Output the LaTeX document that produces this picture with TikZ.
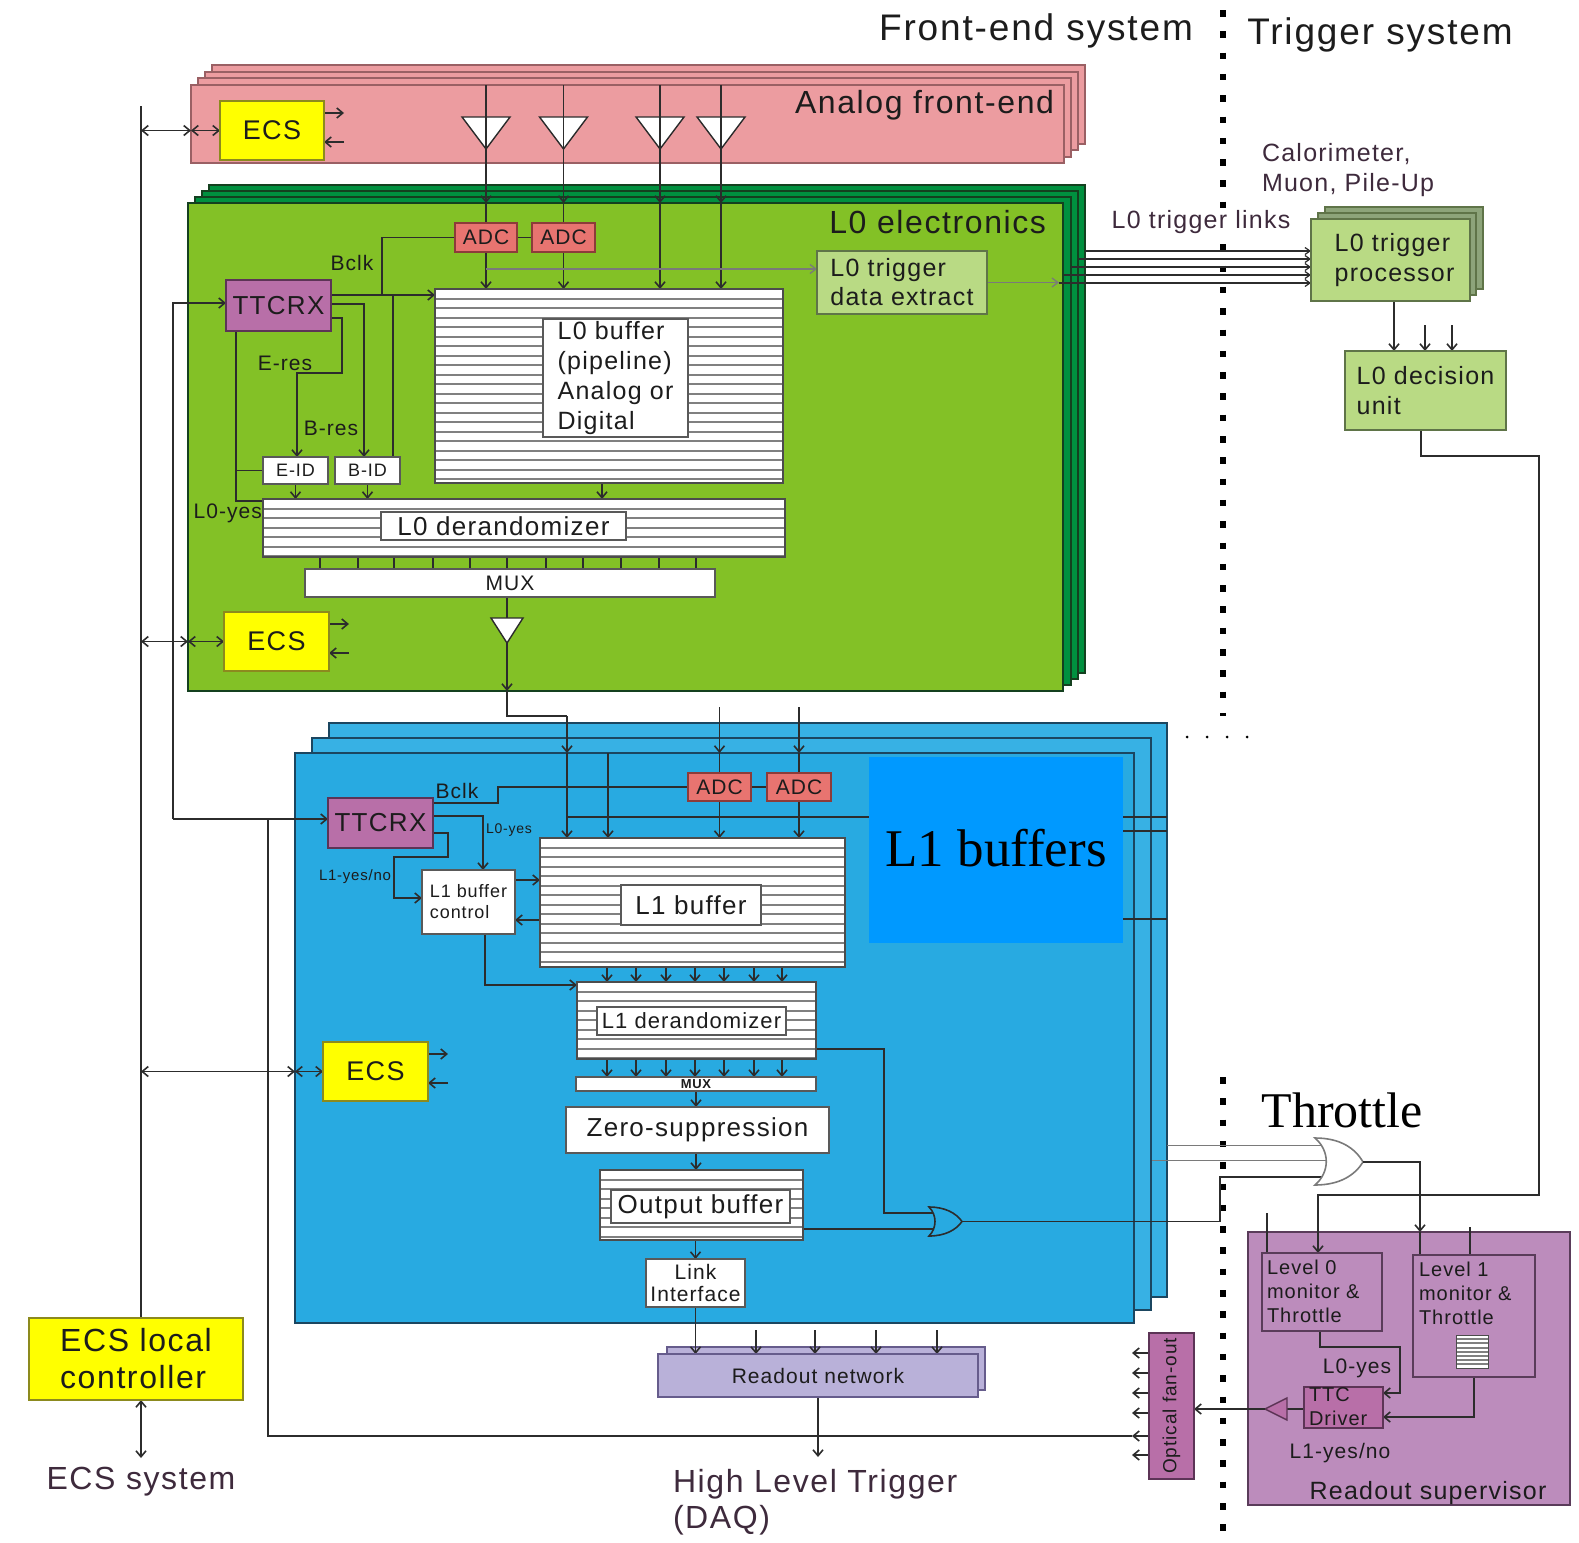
\documentclass[tikz,border=0pt]{standalone}
\usepackage{fontspec}
\setmainfont{Liberation Sans}[LetterSpace=5]
\newfontfamily\serifface{Liberation Serif}
\usetikzlibrary{arrows.meta,fit}
\newcommand\fz[2]{\fontsize{#1pt}{#2pt}\selectfont}
\pgfdeclarelayer{bg}
\pgfdeclarelayer{mid}
\pgfdeclarelayer{top}
\pgfsetlayers{bg,mid,main,top}
\definecolor{pinkf}{HTML}{EC9CA0}
\definecolor{pinkd}{HTML}{9A6064}
\definecolor{grnf}{HTML}{83C126}
\definecolor{grnd}{HTML}{00903F}
\definecolor{grnl}{HTML}{14401F}
\definecolor{ltgrn}{HTML}{B9DA84}
\definecolor{ltgrnd}{HTML}{5F7448}
\definecolor{gback}{HTML}{8DA47A}
\definecolor{yel}{HTML}{FFFF00}
\definecolor{yeld}{HTML}{8C8A1E}
\definecolor{purp}{HTML}{B86FA8}
\definecolor{purpd}{HTML}{5C3456}
\definecolor{adcf}{HTML}{E87470}
\definecolor{adcd}{HTML}{8C3C3A}
\definecolor{bluef}{HTML}{28AAE1}
\definecolor{blueb}{HTML}{37B1E4}
\definecolor{blued}{HTML}{1B4660}
\definecolor{ovl}{HTML}{0099FF}
\definecolor{rsf}{HTML}{BC8CBC}
\definecolor{rsd}{HTML}{5A3C5A}
\definecolor{rnf}{HTML}{B9B1D9}
\definecolor{rnd}{HTML}{665C8C}
\definecolor{lc}{HTML}{2C2C2C}
\definecolor{lg}{HTML}{7A7A7A}
\definecolor{stripec}{HTML}{808080}
\definecolor{txt}{HTML}{1C1C1C}
\definecolor{txtp}{HTML}{3E2A3C}
\begin{document}
\begin{tikzpicture}[x=1pt,y=-1pt,
  every node/.style={inner sep=0pt, outer sep=0pt, text=txt},
  bx/.style={draw, line width=1.5pt},
  pinkbox/.style={bx, draw=pinkd, fill=pinkf},
  gdark/.style={bx, draw=grnl, fill=grnd},
  gfront/.style={bx, draw=grnl, fill=grnf},
  bback/.style={bx, draw=blued, fill=blueb},
  bfront/.style={bx, draw=blued, fill=bluef},
  ltbox/.style={bx, draw=ltgrnd, fill=ltgrn},
  gbk/.style={bx, draw=ltgrnd, fill=gback},
  ecsbox/.style={bx, draw=yeld, fill=yel},
  ttcbox/.style={bx, draw=purpd, fill=purp},
  adcbox/.style={bx, draw=adcd, fill=adcf},
  wbox/.style={bx, draw=gray!70!black, fill=white},
  rsbox/.style={bx, draw=rsd, fill=rsf},
  rsin/.style={bx, draw=rsd, fill=rsf},
  rnbox/.style={bx, draw=rnd, fill=rnf},
  stripes/.style={bx, draw=gray!60!black, fill=white, path picture={
     \foreach \k in {1,...,40}{\draw[stripec, line width=2pt]
        ([yshift={-\k*#1}]path picture bounding box.north west) --
        ([yshift={-\k*#1}]path picture bounding box.north east);}}},
  stripes/.default=9.5pt,
  ln/.style={draw=lc, line width=1.6pt},
  ar/.style={ln, -{Straight Barb[length=6pt,width=10pt]}},
  dar/.style={ln, {Straight Barb[length=6pt,width=10pt]}-{Straight Barb[length=6pt,width=10pt]}},
  gar/.style={draw=lg, line width=1.3pt, -{Straight Barb[length=6pt,width=9pt]}},
  lnk/.style={draw=lc, line width=1.2pt, -{Straight Barb[length=5pt,width=7pt]}},
  dots/.style={draw=black, line width=6.5pt, dash pattern=on 6.5pt off 14.8pt}
]
\useasboundingbox (0,0) rectangle (1579,1542);

% ---------------- background containers ----------------
\begin{pgfonlayer}{bg}
\fill[white] (0,0) rectangle (1579,1542);
\node[pinkbox, fit={(212,65) (1085,144)}] (pk4) {};
\node[pinkbox, fit={(205,72) (1078,150)}] (pk3) {};
\node[pinkbox, fit={(198,78) (1071,157)}] (pk2) {};
\node[pinkbox, fit={(191,85) (1064,163)}] (afe) {};
\foreach \x in {486,563.5,660,721}
  \filldraw[fill=white, draw=lc, line width=1.4pt] (\x-24,117) -- (\x+24,117) -- (\x,149) -- cycle;
\node[gdark, fit={(209,185) (1085,673)}] (gr4) {};
\node[gdark, fit={(202,191) (1078,679)}] (gr3) {};
\node[gdark, fit={(195,197) (1071,685)}] (gr2) {};
\node[gfront, fit={(188,203) (1063,691)}] (l0e) {};
\filldraw[fill=white, draw=lc, line width=1.4pt] (491,618) -- (523,618) -- (507,643) -- cycle;
\node[bback, fit={(329,723) (1167,1297)}] (bl3) {};
\node[bback, fit={(312,738) (1151,1310)}] (bl2) {};
\node[bfront, fit={(295,753) (1134,1323)}] (l1e) {};
\node[gbk, fit={(1325,207) (1483,289)}] (tp3) {};
\node[gbk, fit={(1318,213) (1476,295)}] (tp2) {};
\node[rsbox, fit={(1248,1232) (1570,1505)}] (rs) {};
\node[rnbox, fit={(667,1347) (985,1390)}] (rn2) {};
\end{pgfonlayer}

% ---------------- boxes ----------------
\node[ecsbox, fit={(220,101) (324,160)}] (ecs1) {};
\node[ecsbox, fit={(224,612) (329,671)}] (ecs2) {};
\node[ecsbox, fit={(323,1042) (428,1101)}] (ecs3) {};
\node[ecsbox, fit={(29,1318) (243,1400)}] (ecsl) {};
\node[ttcbox, fit={(226,280) (331,331)}] (ttcrx1) {};
\node[ttcbox, fit={(328,798) (433,848)}] (ttcrx2) {};
\node[adcbox, fit={(455,223) (517,252)}] (adc1) {};
\node[adcbox, fit={(532,223) (595,252)}] (adc2) {};
\node[adcbox, fit={(688,773) (751,801)}] (adc3) {};
\node[adcbox, fit={(767,773) (831,801)}] (adc4) {};
\node[wbox, fit={(263,457) (328,484)}] (eid) {};
\node[wbox, fit={(335,457) (400,484)}] (bid) {};
\node[stripes, fit={(435,289) (783,483)}] (l0buf) {};
\node[wbox, fit={(543,319) (688,437)}] (l0bufl) {};
\node[stripes, fit={(263,499) (785,557)}] (l0der) {};
\node[wbox, fit={(381,512) (626,540)}] (l0derl) {};
\node[wbox, fit={(305,569) (715,597)}] (mux1) {};
\node[ltbox, fit={(817,251) (987,314)}] (tde) {};
\node[ltbox, fit={(1311,219) (1470,301)}] (tp) {};
\node[ltbox, fit={(1345,351) (1506,430)}] (dec) {};
\node[stripes, fit={(540,838) (845,967)}] (l1buf) {};
\node[wbox, fit={(621,885) (761,925)}] (l1bufl) {};
\node[wbox, fit={(422,870) (515,934)}] (l1ctl) {};
\node[stripes, fit={(577,982) (816,1059)}] (l1der) {};
\node[wbox, fit={(597,1007) (786,1035)}] (l1derl) {};
\node[wbox, fit={(576,1077) (816,1091)}] (mux2) {};
\node[wbox, fit={(566,1107) (829,1153)}] (zs) {};
\node[stripes, fit={(600,1170) (803,1240)}] (obuf) {};
\node[wbox, fit={(611,1190) (790,1223)}] (obufl) {};
\node[wbox, fit={(646,1259) (745,1307)}] (link) {};
\node[rnbox, fit={(658,1354) (978,1397)}] (rn) {};
\node[rsin, fit={(1262,1253) (1382,1331)}] (lv0) {};
\node[rsin, fit={(1413,1255) (1535,1377)}] (lv1) {};
\node[stripes=4.2pt, fit={(1456,1335) (1488,1368)}, line width=1pt] (lvicon) {};
\node[ttcbox, fit={(1304,1387) (1383,1428)}] (ttcd) {};
\node[ttcbox, fit={(1149,1333) (1194,1479)}] (ofo) {};

% ---------------- box texts ----------------
\foreach \e in {ecs1,ecs2,ecs3} \node[font=\fz{27}{30}] at (\e.center) {ECS};
\node[font=\fz{32}{37}, align=left] at (ecsl.center) {ECS local\\controller};
\node[font=\fz{26}{30}] at (ttcrx1.center) {TTCRX};
\node[font=\fz{26}{30}] at (ttcrx2.center) {TTCRX};
\foreach \e in {adc1,adc2,adc3,adc4} \node[font=\fz{21}{24}] at (\e.center) {ADC};
\node[font=\fz{18}{20}] at (eid.center) {E-ID};
\node[font=\fz{18}{20}] at (bid.center) {B-ID};
\node[font=\fz{25}{30}, align=left] at (l0bufl.center) {L0 buffer\\(pipeline)\\Analog or\\Digital};
\node[font=\fz{26}{28}] at (l0derl.center) {L0 derandomizer};
\node[font=\fz{21}{24}] at (mux1.center) {MUX};
\node[font=\fz{25}{29}, align=left] at (tde.center) {L0 trigger\\data extract};
\node[font=\fz{25}{30}, align=left] at ([xshift=4pt]tp.center) {L0 trigger\\processor};
\node[font=\fz{25}{30}, align=left] at (dec.center) {L0 decision\\unit};
\node[font=\fz{26}{28}] at (l1bufl.center) {L1 buffer};
\node[font=\fz{18}{21}, align=left] at (l1ctl.center) {L1 buffer\\control};
\node[font=\fz{22}{24}] at (l1derl.center) {L1 derandomizer};
\node[font=\bfseries\fz{13}{14}] at (mux2.center) {MUX};
\node[font=\fz{26}{28}] at (zs.center) {Zero-suppression};
\node[font=\fz{26}{28}] at (obufl.center) {Output buffer};
\node[font=\fz{21}{22}, align=center] at (link.center) {Link\\Interface};
\node[font=\fz{21}{24}] at (rn.center) {Readout network};
\node[anchor=north west, font=\fz{20}{24}, align=left] at (1267,1260) {Level 0\\monitor \&\\Throttle};
\node[anchor=north west, font=\fz{20}{24}, align=left] at (1419,1262) {Level 1\\monitor \&\\Throttle};
\node[anchor=north west, font=\fz{20}{24}, align=left] at (1309,1388) {TTC\\Driver};
\node[rotate=90, font=\fz{19}{22}] at (ofo.center) {Optical fan-out};
\node[font=\fz{21}{24}] at (1357,1368) {L0-yes};
\node[font=\fz{21}{24}] at (1340,1453) {L1-yes/no};
\node[font=\fz{25}{28}] at (1428,1493) {Readout supervisor};

% ---------------- free texts ----------------
\node[font=\fz{37}{40}] at (1036,31) {Front-end system};
\node[font=\fz{37}{40}] at (1380,35) {Trigger system};
\node[anchor=east, font=\fz{32}{36}] at (1054,105) {Analog front-end};
\node[anchor=east, font=\fz{32}{36}] at (1046,222) {L0 electronics};
\node[font=\fz{25}{28}, text=txtp, fill=white, inner sep=2pt] at (1201,222) {L0 trigger links};
\node[anchor=west, font=\fz{25}{30}, text=txtp, align=left] at (1262,170) {Calorimeter,\\Muon, Pile-Up};
\node[font=\fz{21}{24}] at (352,263) {Bclk};
\node[font=\fz{21}{24}] at (285,363) {E-res};
\node[font=\fz{21}{24}] at (331,428) {B-res};
\node[anchor=east, font=\fz{21}{24}] at (262,513) {L0-yes};
\node[font=\fz{21}{24}] at (457,791) {Bclk};
\node[font=\fz{14}{16}] at (509,830) {L0-yes};
\node[font=\fz{15}{17}] at (355,877) {L1-yes/no};
\node[font=\fz{32}{36}, text=txtp] at (141,1482) {ECS system};
\node[anchor=north west, font=\fz{32}{36}, text=txtp, align=left] at (673,1469) {High Level Trigger\\(DAQ)};

% ---------------- connectors ----------------
\begin{pgfonlayer}{mid}
\draw[dots] (1223,10) -- (1223,716);
\draw[dots] (1223,1077) -- (1223,1532);
\foreach \x in {1187,1207,1227,1247} \fill[black] (\x,737) circle (1.5pt);

% ECS bus
\coordinate (bus) at (141,106);
\draw[ln] (bus) -- (bus |- ecsl.north);
\coordinate (ecsend) at (141,1458);
\draw[dar] (bus |- ecsl.south) -- (ecsend);
\draw[dar] (bus |- ecs1.west) -- (afe.west |- ecs1.west);
\draw[dar] (afe.west |- ecs1.west) -- (ecs1.west);
\draw[dar] (bus |- ecs2.west) -- (l0e.west |- ecs2.west);
\draw[dar] (l0e.west |- ecs2.west) -- (ecs2.west);
\draw[dar] (bus |- ecs3.west) -- (l1e.west |- ecs3.west);
\draw[dar] (l1e.west |- ecs3.west) -- (ecs3.west);
\foreach \e in {ecs1,ecs2,ecs3}{
  \draw[ar] ([yshift=17.5pt]\e.east) -- ([yshift=17.5pt,xshift=20pt]\e.east);
  \draw[ar] ([yshift=-11.5pt,xshift=20pt]\e.east) -- ([yshift=-11.5pt]\e.east);
}

% TTC distribution
\coordinate (ttcA) at (173,819);
\coordinate (ttcB) at (268,819);
\draw[ar] (ttcA) |- ([yshift=2.5pt]ttcrx1.west);
\draw[ar] (ttcA) -- ([yshift=4pt]ttcrx2.west);

% analog columns
\coordinate (c1) at (486,85); \coordinate (c2) at (563.5,85);
\coordinate (c3) at (660,85); \coordinate (c4) at (721,85);
\draw[ar] (c1) -- (c1 |- l0e.north);
\draw[ln] (c1 |- l0e.north) -- (adc1.north);
\draw[ar] (adc1.south) -- (adc1.south |- l0buf.north);
\draw[ar] (c2) -- (c2 |- l0e.north);
\draw[ln] (c2 |- l0e.north) -- (adc2.north);
\draw[ar] (adc2.south) -- (adc2.south |- l0buf.north);
\draw[ar] (c3) -- (c3 |- l0e.north);
\draw[ar] (c3 |- l0e.north) -- (c3 |- l0buf.north);
\draw[ar] (c4) -- (c4 |- l0e.north);
\draw[ar] (c4 |- l0e.north) -- (c4 |- l0buf.north);
\draw[ln] (adc1) -- (adc2);

% L0 trigger data path
\coordinate (de1) at ([yshift=13.5pt]tde.west);
\draw[gar] (c1 |- de1) -- (de1);
\draw[gar] (tde.east) -- ++(72,0);
\foreach \y/\xs in {251/1085,259/1078,267/1071,275/1064,283/1059}
  \draw[lnk] (\xs,\y) -- (1311,\y);
\coordinate (pd) at ([xshift=3.5pt]tp.south);
\draw[ar] (pd) -- (pd |- dec.north);
\coordinate (pd2) at (1425,325); \coordinate (pd3) at (1452,325);
\draw[ar] (pd2) -- (pd2 |- dec.north);
\draw[ar] (pd3) -- (pd3 |- dec.north);

% green TTCRX
\coordinate (bclkj) at (382,295);
\draw[ln] (adc1.west) -| (bclkj);
\draw[ar] (ttcrx1.east |- bclkj) -- (l0buf.west |- bclkj);
\coordinate (tap) at (393,295);
\draw[ln] (tap) -- (tap |- bid.north);
\draw[ar] ([yshift=1.5pt]ttcrx1.east) -| ([xshift=-3.5pt]bid.north);
\draw[ar] ([yshift=-12.5pt]ttcrx1.east) -| (342,373) -| ([xshift=1.5pt]eid.north);
\draw[ln] ([xshift=10pt]ttcrx1.south west) |- ([yshift=-2pt]l0der.north west);
\draw[ln] (eid.west) -- ++(-27,0);
\draw[ar] (eid.south) -- (eid.south |- l0der.north);
\draw[ar] (bid.south) -- (bid.south |- l0der.north);
\coordinate (lb) at ([xshift=-7pt]l0buf.south);
\draw[ar] (lb) -- (lb |- l0der.north);
\foreach \x in {320,358,394,433,470,507,546,583,621,659,696}
  \draw[ln] (\x,557) -- (\x,569);
\coordinate (t5t) at (507,618); \coordinate (t5a) at (507,643);
\draw[ln] (mux1.south -| t5t) -- (t5t);
\draw[ar] (t5a) -- (t5a |- l0e.south);
\coordinate (j1) at (567,716);
\draw[ln] (t5a |- l0e.south) |- (j1);
\draw[ar] (j1) -- (j1 |- l1e.north);
\draw[ar] (j1 |- l1e.north) -- (j1 |- l1buf.north);

% blue board
\coordinate (j2) at (608,753);
\draw[ar] (j2) -- (j2 |- l1buf.north);
\coordinate (h1) at (567,817);
\draw[ln] (h1) -- (h1 -| bl3.east);
\draw[ln] (1123,831) -- (1167,831);
\draw[ln] (1123,919) -- (1167,919);
\coordinate (c5) at (719.5,707); \coordinate (c6) at (799,707);
\draw[ar] (c5) -- (c5 |- l1e.north);
\draw[ln] (c5 |- l1e.north) -- (adc3.north);
\draw[ar] (adc3.south) -- (adc3.south |- l1buf.north);
\draw[ar] (c6) -- (c6 |- l1e.north);
\draw[ln] (c6 |- l1e.north) -- (adc4.north);
\draw[ar] (adc4.south) -- (adc4.south |- l1buf.north);
\draw[ln] (adc3) -- (adc4);
\coordinate (bclk2) at (498,803);
\draw[ln] (adc3.west) -| (bclk2) -- ([yshift=20pt]ttcrx2.east);
\draw[ar] ([yshift=7pt]ttcrx2.east) -| ([xshift=14.5pt]l1ctl.north);
\draw[ar] ([yshift=-10pt]ttcrx2.east) -| (448,857) -| (394,898) -- ([yshift=4pt]l1ctl.west);
\coordinate (ce1) at ([yshift=22pt]l1ctl.east);
\coordinate (ce2) at ([yshift=-18pt]l1ctl.east);
\draw[ar] (ce1) -- (ce1 -| l1buf.west);
\draw[ar] (ce2 -| l1buf.west) -- (ce2);
\draw[ar] ([xshift=16.5pt]l1ctl.south) |- ([yshift=-3pt]l1der.north west);
\foreach \x in {607,636,666,695,724,754,782} {
  \draw[ar] (\x,967) -- (\x,982);
  \draw[ar] (\x,1059) -- (\x,1077);
}
\draw[ar] (mux2.south) -- (mux2.south |- zs.north);
\draw[ar] (zs.south -| mux2.south) -- (obuf.north -| mux2.south);
\draw[ar] (obuf.south -| link.north) -- (link.north);
\draw[ar] (link.south) -- (link.south |- rn.north);
\foreach \x in {756,815,876,937} \draw[ar] (\x,1330) -- (\x,1354);
\coordinate (hlt) at (818,1457);
\draw[ar] (rn.south) -- (rn.south |- hlt);

% OR gates and throttle
\coordinate (or1a) at (934,1213); \coordinate (or1b) at (934,1229); \coordinate (or1o) at (962,1221.5);
\draw[ln] ([yshift=-28.5pt]l1der.east) -| (884,1213) -- (or1a);
\draw[ln] ([yshift=-24pt]obuf.east) -- (or1b);
\coordinate (or2c) at (1324,1177);
\draw[ln] (or1o) -| (1220,1177) -- (or2c);
\filldraw[fill=bluef, draw=lc, line width=1.6pt] (929,1207) .. controls (945,1207) and (956,1213) .. (962,1221.5) .. controls (956,1230) and (945,1236) .. (929,1236) .. controls (937,1228) and (937,1215) .. cycle;
\coordinate (g3o) at (1167,1145); \coordinate (g2o) at (1152,1160);
\draw[lg, line width=1pt] (g3o) -- (1326,1145);
\draw[lg, line width=1pt] (g2o) -- (1328,1160);
\filldraw[fill=white, draw=lg, line width=1.6pt] (1315,1138) .. controls (1340,1138) and (1355,1148) .. (1363,1162) .. controls (1355,1175) and (1340,1185) .. (1315,1185) .. controls (1330,1172) and (1330,1151) .. cycle;
\coordinate (or2o) at (1363,1162);
\coordinate (k1) at (1420,1232);
\draw[ar] (or2o) -| (k1);
\draw[ln] (k1) -- (k1 |- lv1.north);
\draw[ar] ([xshift=-4.5pt]dec.south) |- (1539,456) -- (1539,1195) -| ([xshift=-4pt]lv0.north);
\coordinate (s1) at (1267,1213); \draw[ln] (s1) -- (s1 |- lv0.north);
\coordinate (s2) at (1470,1227); \draw[ln] (s2) -- (s2 |- lv1.north);

% readout supervisor internals
\draw[ar] ([xshift=-2pt]lv0.south) |- (1400,1347) |- ([yshift=14.5pt]ttcd.east);
\draw[ar] (lv1.south) |- ([yshift=-9.5pt]ttcd.east);
\coordinate (tdb) at (1287,1409); \coordinate (tda) at (1265,1409);
\draw[ln] (ttcd.west |- tdb) -- (tdb);
\filldraw[fill=purp, draw=purpd, line width=1.4pt] (1287,1398) -- (1287,1420) -- (1265,1409) -- cycle;
\draw[ar] (tda) -- (tda -| ofo.east);
\foreach \y in {1353,1373,1393,1413,1455}
  \draw[ar] (1149,\y) -- (1132,\y);
\coordinate (ofl) at (1132,1436);
\draw[ar] (ofo.west |- ofl) -- (ofl);
\draw[ln] (ofl) -| (ttcB);
\end{pgfonlayer}

% ---------------- pasted labels on top ----------------
\begin{pgfonlayer}{top}
\node[fill=ovl, fit={(869,757) (1123,943)}] (ovl) {};
\node[font=\serifface\fz{53}{60}, text=black] at (996,848) {L1 buffers};
\node[font=\serifface\fz{50}{56}, text=black] at (1342,1110) {Throttle};
\end{pgfonlayer}
\end{tikzpicture}
\end{document}
